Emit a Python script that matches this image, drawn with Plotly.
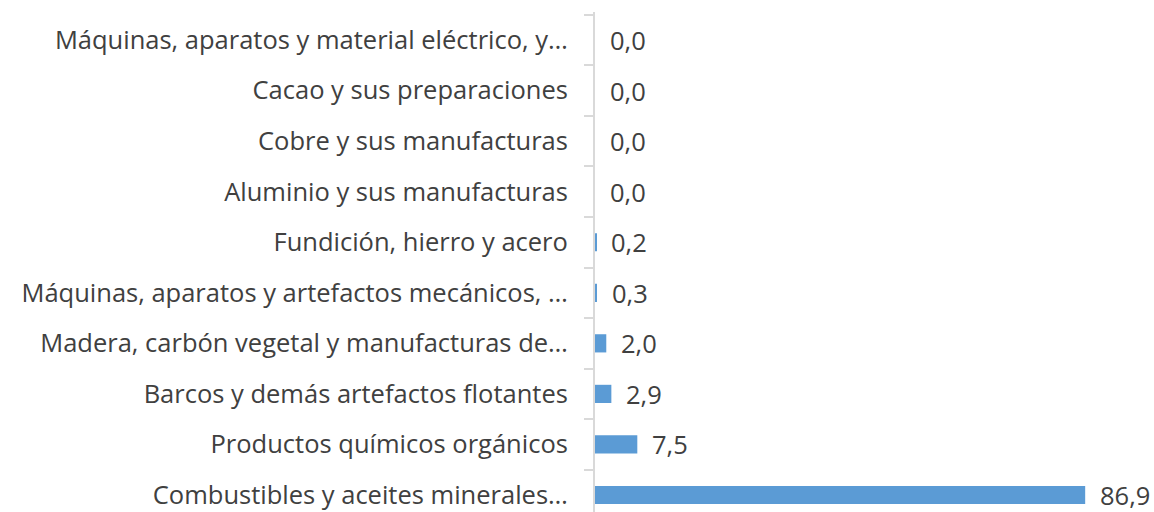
import plotly.graph_objects as go

categories = [
    "Combustibles y aceites minerales…",
    "Productos químicos orgánicos",
    "Barcos y demás artefactos flotantes",
    "Madera, carbón vegetal y manufacturas de…",
    "Máquinas, aparatos y artefactos mecánicos, …",
    "Fundición, hierro y acero",
    "Aluminio y sus manufacturas",
    "Cobre y sus manufacturas",
    "Cacao y sus preparaciones",
    "Máquinas, aparatos y material eléctrico, y…",
]
values = [86.9, 7.5, 2.9, 2.0, 0.3, 0.2, 0.0, 0.0, 0.0, 0.0]
value_labels = [f"{v:.1f}".replace(".", ",") for v in values]

fig = go.Figure()
fig.add_trace(go.Bar(
    x=values, y=categories, orientation="h",
    marker=dict(color="#5B9BD5", line=dict(width=0)),
    width=0.36,
))
for c, v, t in zip(categories, values, value_labels):
    fig.add_annotation(x=v, y=c, text=t, showarrow=False, xanchor="left",
                       xshift=13, font=dict(size=25.5, color="#404040", family="Open Sans"))

fig.update_layout(
    width=1154, height=512,
    margin=dict(l=595, r=0, t=12, b=0),
    plot_bgcolor="white", paper_bgcolor="white",
    showlegend=False,
    font=dict(family="Open Sans", size=25.5, color="#404040"),
    xaxis=dict(range=[0, 99.1], visible=False, showgrid=False, zeroline=False),
    yaxis=dict(
        categoryorder="array", categoryarray=categories,
        range=[-0.336, 9.554], automargin=False,
        showline=True, linecolor="#d9d9d9", linewidth=2,
        ticks="outside", ticklen=9, tickcolor="#d9d9d9", tickwidth=1.5,
        tickson="boundaries", ticklabelstandoff=20,
        showgrid=False, zeroline=False,
    ),
)
fig.write_html("out.html", config={"displayModeBar": False},
               post_script="document.body.style.margin='0';")
